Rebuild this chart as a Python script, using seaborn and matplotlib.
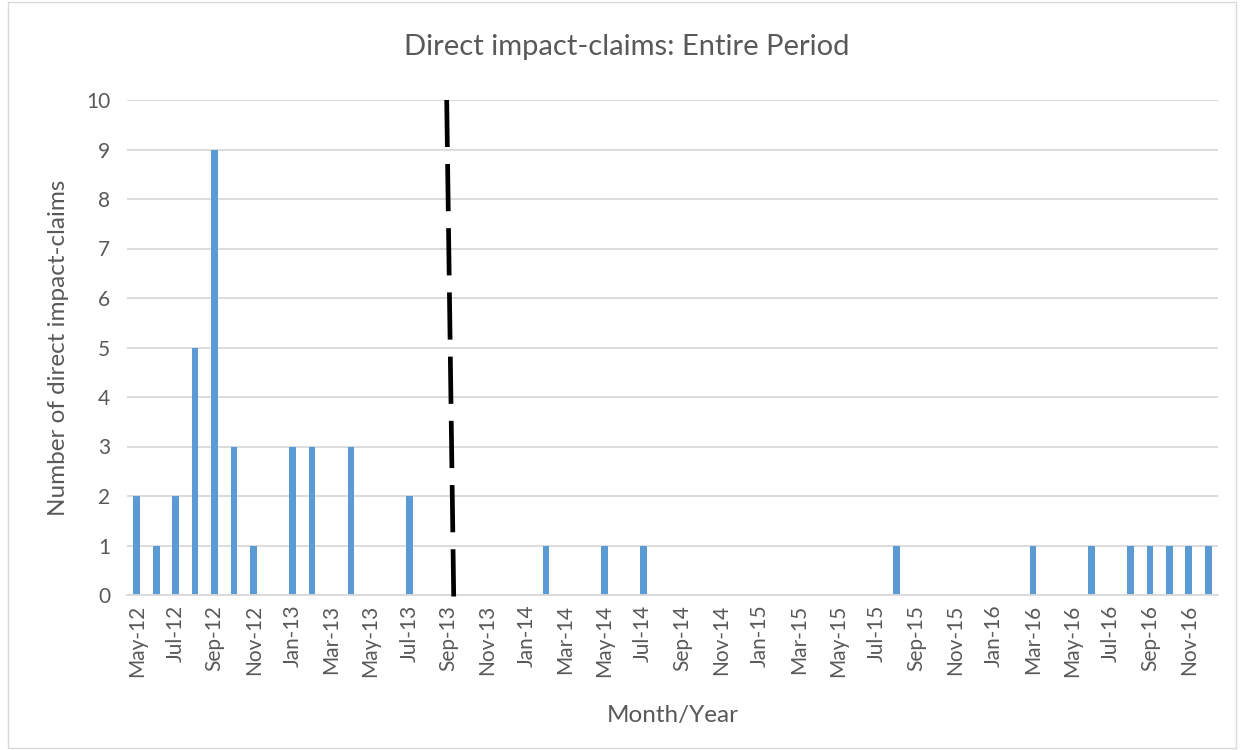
import pandas as pd
import numpy as np
import matplotlib.pyplot as plt
import seaborn as sns
from matplotlib.patches import Rectangle

months = pd.date_range("2012-05-01", "2016-12-01", freq="MS").strftime("%b-%y").tolist()
counts = [2, 1, 2, 5, 9, 3, 1, 0, 3, 3, 0, 3, 0, 0, 2, 0, 0, 0, 0, 0,
          0, 1, 0, 0, 1, 0, 1, 0, 0, 0, 0, 0, 0, 0, 0, 0, 0, 0, 0, 1,
          0, 0, 0, 0, 0, 0, 1, 0, 0, 1, 0, 1, 1, 1, 1, 1]
# dashed divider, x positions (category units) at y=0 and y=10
divider_x = [16.27, 15.91]
divider_y = [-0.03, 10]

df = pd.DataFrame({"Month": months, "Claims": counts})

sns.set_style("white")
plt.rcParams['font.family'] = ['Lato', 'DejaVu Sans']
txt = "#595959"
grid = "#D9D9D9"

fig = plt.figure(figsize=(12.44, 7.5), dpi=100)
ax = fig.add_axes([127/1244, 1-595/750, (1218-127)/1244, (595-100)/750])

sns.barplot(data=df, x="Month", y="Claims", order=months, color="#5B9BD5",
            width=0.34, saturation=1, linewidth=0, ax=ax, zorder=2)

ax.plot(divider_x, divider_y, color="black", lw=3.4, dashes=(10, 3.6),
        clip_on=False, zorder=3, solid_capstyle="butt", dash_capstyle="butt")

ax.set_xlim(-0.5, len(months) - 0.5)
ax.set_ylim(0, 10)
ax.set_yticks(range(0, 11))
ax.yaxis.grid(True, color=grid, lw=1.3, zorder=0)
ax.set_axisbelow(True)

ax.set_xticks(range(0, len(months), 2))
ax.set_xticklabels(months[::2], rotation=90)
ax.set_xticks(np.arange(-0.5, len(months), 2), minor=True)
ax.tick_params(axis="x", which="major", length=0, pad=7, labelsize=15, colors=txt)
ax.tick_params(axis="x", which="minor", length=6, color=grid, width=1.3)
ax.tick_params(axis="y", length=0, pad=12, labelsize=15, colors=txt)

for s in ["top", "right", "left"]:
    ax.spines[s].set_visible(False)
ax.spines["bottom"].set_color(grid)
ax.spines["bottom"].set_linewidth(1.3)

ax.set_xlabel("Month/Year", fontsize=17.5, color=txt, labelpad=20)
ax.set_ylabel("Number of direct impact-claims", fontsize=17.5, color=txt, labelpad=12)
fig.text(627/1244, 1-47/750, "Direct impact-claims: Entire Period", ha="center",
         va="center", fontsize=21, color=txt)

fig.patches.append(Rectangle((8/1244, 2/750), 1228/1244, 746/750, transform=fig.transFigure,
                             fill=False, edgecolor=grid, lw=1))

fig.savefig("out.png", dpi=100)
